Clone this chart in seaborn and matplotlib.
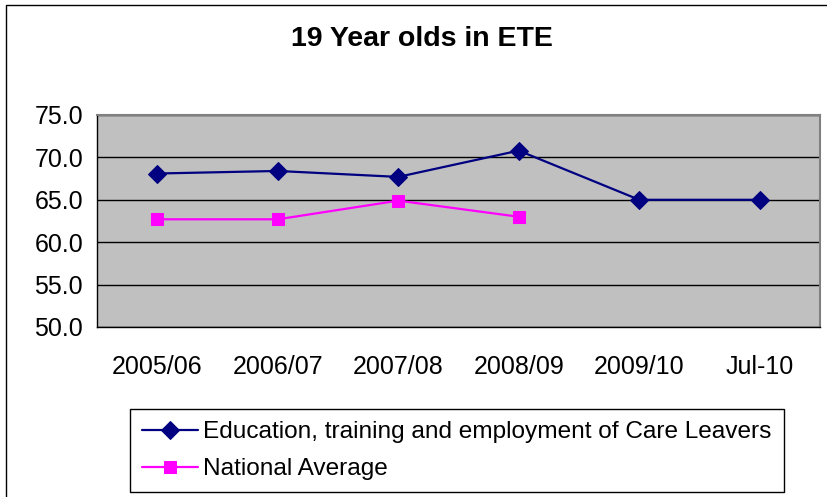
import matplotlib
matplotlib.use('Agg')
import matplotlib.pyplot as plt
from matplotlib.patches import Rectangle
import numpy as np
import pandas as pd
import seaborn as sns

sns.set_style('white')
plt.rcParams['font.family'] = ['Liberation Sans', 'DejaVu Sans']
plt.rcParams['text.color'] = 'black'
plt.rcParams['xtick.color'] = 'black'
plt.rcParams['ytick.color'] = 'black'

# data
categories = ['2005/06', '2006/07', '2007/08', '2008/09', '2009/10', 'Jul-10']
care_leavers = [68.1, 68.4, 67.7, 70.8, 65.0, 65.0]
national_avg = [62.7, 62.7, 64.9, 63.0, np.nan, np.nan]
yticks = [50.0, 55.0, 60.0, 65.0, 70.0, 75.0]

W, H = 828, 497
fig = plt.figure(figsize=(W / 100, H / 100), dpi=100)
fig.patch.set_facecolor('white')

# plot area in pixel coordinates of the reference
left, right, top, bottom = 97, 820, 115, 327
ax = fig.add_axes([left / W, 1 - bottom / H, (right - left) / W, (bottom - top) / H])
ax.set_facecolor('#C0C0C0')

df = pd.DataFrame({'pos': np.arange(len(categories)),
                   'care': care_leavers,
                   'nat': national_avg})

sns.lineplot(data=df, x='pos', y='care', ax=ax, color='#000080', marker='D',
             markersize=9, markeredgecolor='#000080', linewidth=1.6,
             label='Education, training and employment of Care Leavers', legend=False)
sns.lineplot(data=df.dropna(), x='pos', y='nat', ax=ax, color='#FF00FF', marker='s',
             markersize=8.5, markeredgecolor='#FF00FF', linewidth=1.6,
             label='National Average', legend=False)

ax.set_xlim(-0.5, len(categories) - 0.5)
ax.set_ylim(50, 75)
ax.set_yticks(yticks)
ax.set_yticklabels([f'{v:.1f}' for v in yticks])
ax.yaxis.grid(True, color='black', linewidth=1)
ax.xaxis.grid(False)
ax.set_axisbelow(True)

# category ticks sit between categories, labels at centres
ax.set_xticks(np.arange(len(categories) + 1) - 0.5)
ax.set_xticklabels([])
ax.set_xticks(np.arange(len(categories)), minor=True)
ax.set_xticklabels(categories, minor=True)
ax.tick_params(axis='x', which='major', direction='out', length=6, width=1, color='black')
ax.tick_params(axis='x', which='minor', length=0, pad=20, labelsize=18)
ax.tick_params(axis='y', direction='out', length=6, width=1, color='black', pad=4, labelsize=18)
ax.set_xlabel('')
ax.set_ylabel('')

for side in ['left', 'bottom']:
    ax.spines[side].set_color('black')
    ax.spines[side].set_linewidth(1)
for side in ['top', 'right']:
    ax.spines[side].set_color('#808080')
    ax.spines[side].set_linewidth(1.5)

fig.text(422 / W, 1 - 39 / H, '19 Year olds in ETE', ha='center', va='center',
         fontsize=20.5, fontweight='bold')

handles, labels = ax.get_legend_handles_labels()
leg = fig.legend(handles, labels, loc='upper left', bbox_to_anchor=(130 / W, 1 - 409 / H),
                 fontsize=17.6, frameon=True, fancybox=False, edgecolor='black',
                 framealpha=1, handlelength=2.3, handletextpad=0.2, labelspacing=0.6,
                 borderpad=0.5, borderaxespad=0)
leg.get_frame().set_linewidth(1)

# chart area border
fig.add_artist(Rectangle((6 / W, -0.1), 1.2, (H - 5) / H + 0.1, transform=fig.transFigure,
                         fill=False, edgecolor='black', linewidth=1))

fig.savefig('out.png', dpi=100)
